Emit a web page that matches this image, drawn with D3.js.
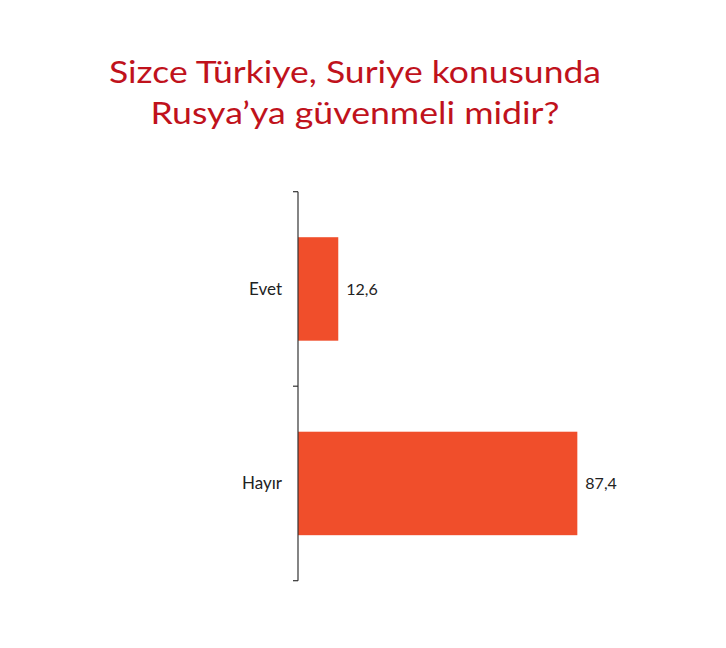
<!DOCTYPE html>
<html>
<head>
<meta charset="utf-8">
<script src="https://cdn.jsdelivr.net/npm/d3@7"></script>
<style>
  body { margin: 0; background: #fff; }
  text { font-family: Lato, "Open Sans", sans-serif; }
</style>
</head>
<body>
<div id="chart"></div>
<script>
var titleLines = ["Sizce Türkiye, Suriye konusunda", "Rusya’ya güvenmeli midir?"];
var categories = ["Evet", "Hayır"];
var values = [12.6, 87.4];
var valueLabels = ["12,6", "87,4"];

var width = 726, height = 648;

var svg = d3.select("#chart")
    .append("svg")
    .attr("width", width)
    .attr("height", height);

// title (stretched a bit to the reference's narrow-font width)
var titleWidths = [492, 409];
svg.selectAll(".title")
    .data(titleLines)
  .enter()
    .append("text")
    .attr("class", "title")
    .attr("x", 355)
    .attr("y", function (d, i) { return 82.5 + i * 41.7; })
    .attr("text-anchor", "middle")
    .attr("textLength", function (d, i) { return titleWidths[i]; })
    .attr("lengthAdjust", "spacingAndGlyphs")
    .style("font-size", "31px")
    .style("fill", "#c0121c")
    .text(function (d) { return d; });

var x = d3.scaleLinear()
    .domain([0, 100])
    .range([298, 617.6]);

var y = d3.scaleBand()
    .domain(categories)
    .range([191.7, 580.7])
    .paddingInner(0.468)
    .paddingOuter(0.234);

// bars
svg.selectAll(".bar")
    .data(values)
  .enter()
    .append("rect")
    .attr("class", "bar")
    .attr("x", x(0))
    .attr("y", function (d, i) { return y(categories[i]); })
    .attr("width", function (d) { return x(d) - x(0); })
    .attr("height", y.bandwidth())
    .style("fill", "#f04e2b");

// value labels
svg.selectAll(".val")
    .data(values)
  .enter()
    .append("text")
    .attr("class", "val")
    .attr("x", function (d) { return x(d) + 8; })
    .attr("y", function (d, i) { return y(categories[i]) + y.bandwidth() / 2; })
    .attr("dy", "0.35em")
    .style("font-size", "16px")
    .style("fill", "#222")
    .text(function (d, i) { return valueLabels[i]; });

// category axis, ticks on band edges
var step = y.step();
var edges = [y.range()[0], y.range()[0] + step, y.range()[1]];
var axis = svg.append("g");
axis.append("line")
    .attr("x1", x(0)).attr("x2", x(0))
    .attr("y1", edges[0]).attr("y2", edges[2])
    .style("stroke", "#333")
    .style("stroke-width", "1.2px");
axis.selectAll(".tick")
    .data(edges)
  .enter()
    .append("line")
    .attr("x1", x(0) - 5).attr("x2", x(0))
    .attr("y1", function (d) { return d; })
    .attr("y2", function (d) { return d; })
    .style("stroke", "#333")
    .style("stroke-width", "1.2px");

axis.selectAll(".cat")
    .data(categories)
  .enter()
    .append("text")
    .attr("class", "cat")
    .attr("x", 282)
    .attr("y", function (d) { return y(d) + y.bandwidth() / 2; })
    .attr("dy", "0.35em")
    .attr("text-anchor", "end")
    .style("font-size", "17px")
    .style("fill", "#222")
    .text(function (d) { return d; });
</script>
</body>
</html>
